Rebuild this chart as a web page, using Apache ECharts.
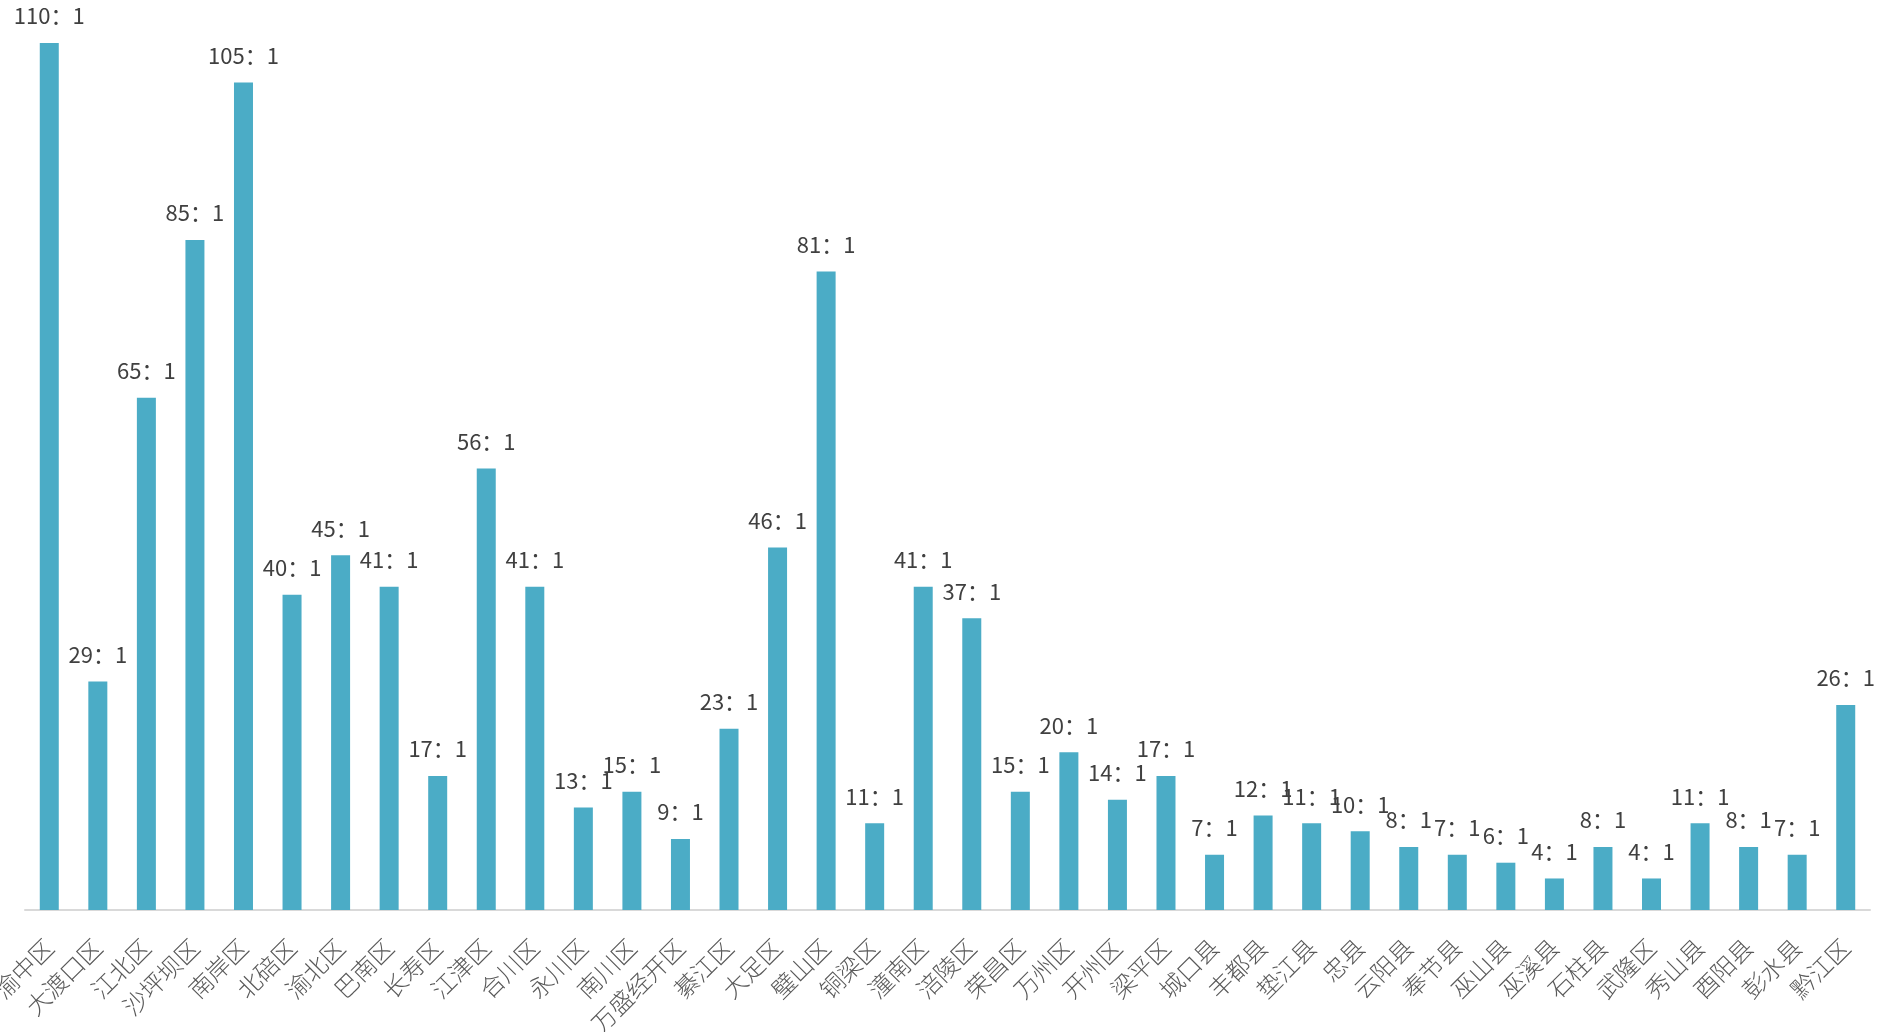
<!DOCTYPE html>
<html>
<head>
<meta charset="utf-8">
<style>
  html, body { margin: 0; padding: 0; background: #fff; }
  #chart { width: 1886px; height: 1032px; }
</style>
<script src="https://cdn.jsdelivr.net/npm/echarts@6/dist/echarts.min.js"></script>
</head>
<body>
<div id="chart"></div>
<script>
  // 区县
  var districts = ['渝中区', '大渡口区', '江北区', '沙坪坝区', '南岸区', '北碚区', '渝北区', '巴南区', '长寿区', '江津区',
    '合川区', '永川区', '南川区', '万盛经开区', '綦江区', '大足区', '璧山区', '铜梁区', '潼南区', '涪陵区',
    '荣昌区', '万州区', '开州区', '梁平区', '城口县', '丰都县', '垫江县', '忠县', '云阳县', '奉节县',
    '巫山县', '巫溪县', '石柱县', '武隆区', '秀山县', '酉阳县', '彭水县', '黔江区'];
  // 比例（x：1）
  var ratios = [110, 29, 65, 85, 105, 40, 45, 41, 17, 56,
    41, 13, 15, 9, 23, 46, 81, 11, 41, 37,
    15, 20, 14, 17, 7, 12, 11, 10, 8, 7,
    6, 4, 8, 4, 11, 8, 7, 26];

  var chart = echarts.init(document.getElementById('chart'));
  var option = {
    animation: false,
    grid: {
      left: 25,
      right: 16,
      top: 43,
      bottom: 122,
      outerBoundsMode: 'none'
    },
    xAxis: {
      type: 'category',
      data: districts,
      axisLine: { lineStyle: { color: '#d9d9d9', width: 2 } },
      axisTick: { show: false },
      axisLabel: {
        interval: 0,
        rotate: 45,
        margin: 33,
        fontSize: 24,
        fontWeight: 300,
        color: '#595959',
        fontFamily: 'Noto Sans CJK SC'
      }
    },
    yAxis: {
      type: 'value',
      min: 0,
      max: 110,
      show: false,
      splitLine: { show: false }
    },
    series: [{
      type: 'bar',
      data: ratios,
      barWidth: 19,
      itemStyle: { color: '#4bacc6' },
      label: {
        show: true,
        position: 'top',
        distance: 16,
        fontSize: 22,
        color: '#404040',
        fontFamily: 'Noto Sans CJK SC',
        formatter: function (p) {
          return p.value + '：1';
        }
      }
    }]
  };
  chart.setOption(option);
</script>
</body>
</html>
